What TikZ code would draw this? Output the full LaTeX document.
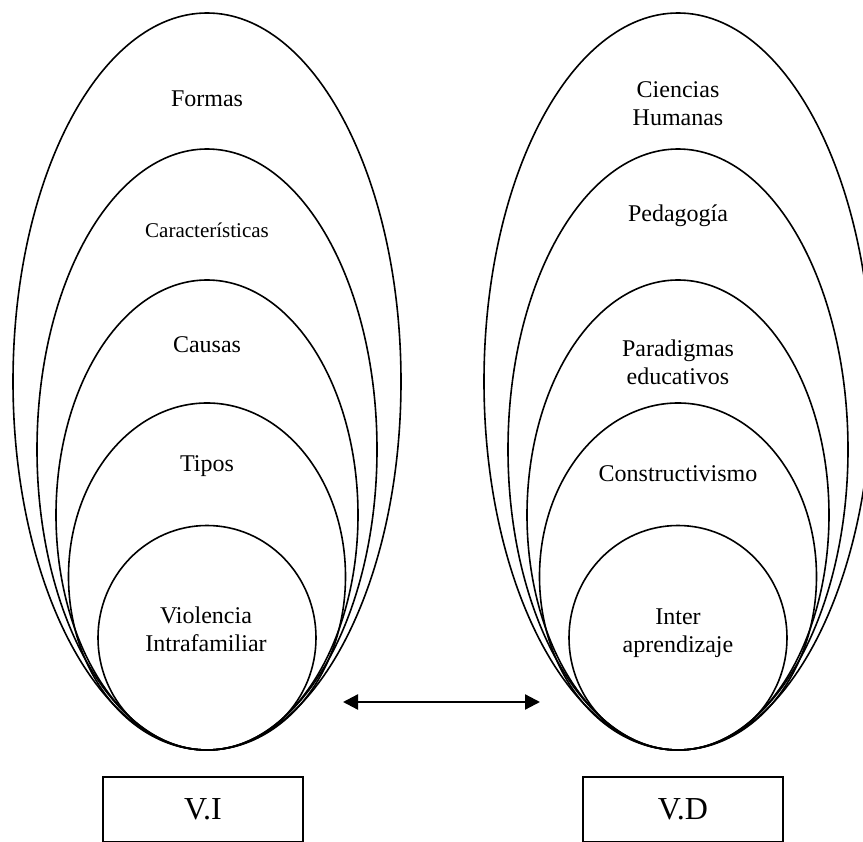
\documentclass[tikz,border=0pt]{standalone}
\usepackage{fontspec}
\setmainfont{Liberation Serif}
\usetikzlibrary{arrows.meta}
\tikzset{
	etiqueta/.style = {font = \fontsize{24}{28}\selectfont, align = center, inner sep = 0pt},
	caja/.style = {draw, line width = 1.6pt, minimum width = 200pt, minimum height = 65pt, anchor = north, font = \fontsize{32}{36}\selectfont}
}

\begin{document}
\begin{tikzpicture}[x = 1pt, y = -1pt]
	\useasboundingbox (0,0) rectangle (863,842);
	\clip (0,0) rectangle (863,842);
	% nested ellipses, all touching at the bottom (y = 750)
	\foreach \cx in {207,678}
	\foreach \t/\rx in {13/194,149/170,280/151,403/138.5,525.5/109}
	{
		\pgfmathsetmacro{\cy}{(\t+750)/2}
		\pgfmathsetmacro{\ry}{(750-\t)/2}
		\draw [line width = 1.6pt] (\cx, \cy) ellipse ({\rx pt} and {\ry pt});
	}
	% left set
	\node [etiqueta] (formas) at (207,99) {Formas};
	\node [etiqueta, font = \fontsize{21}{25}\selectfont] (caract) at (207,230.5) {Características};
	\node [etiqueta] (causas) at (207,345) {Causas};
	\node [etiqueta] (tipos) at (207,466.5) {Tipos};
	\node [etiqueta] (violencia) at (206,629) {Violencia\\Intrafamiliar};
	% right set
	\node [etiqueta] (ciencias) at (678,104) {Ciencias\\Humanas};
	\node [etiqueta] (pedagogia) at (678,215.5) {Pedagogía};
	\node [etiqueta] (paradigmas) at (678,362) {Paradigmas\\educativos};
	\node [etiqueta] (constructivismo) at (678,474) {Constructivismo};
	\node [etiqueta] (inter) at (678,633) {Inter\\aprendizaje};
	% variables
	\node [caja] (vi) at (203,776) {V.I};
	\node [caja] (vd) at (683,776) {V.D};
	\coordinate (arrL) at (343,702);
	\coordinate (arrR) at (540,702);
	\draw [<->, > = {Triangle[length = 15pt, width = 15pt]}, line width = 2.3pt] (arrL) -- (arrR);
\end{tikzpicture}
\end{document}
